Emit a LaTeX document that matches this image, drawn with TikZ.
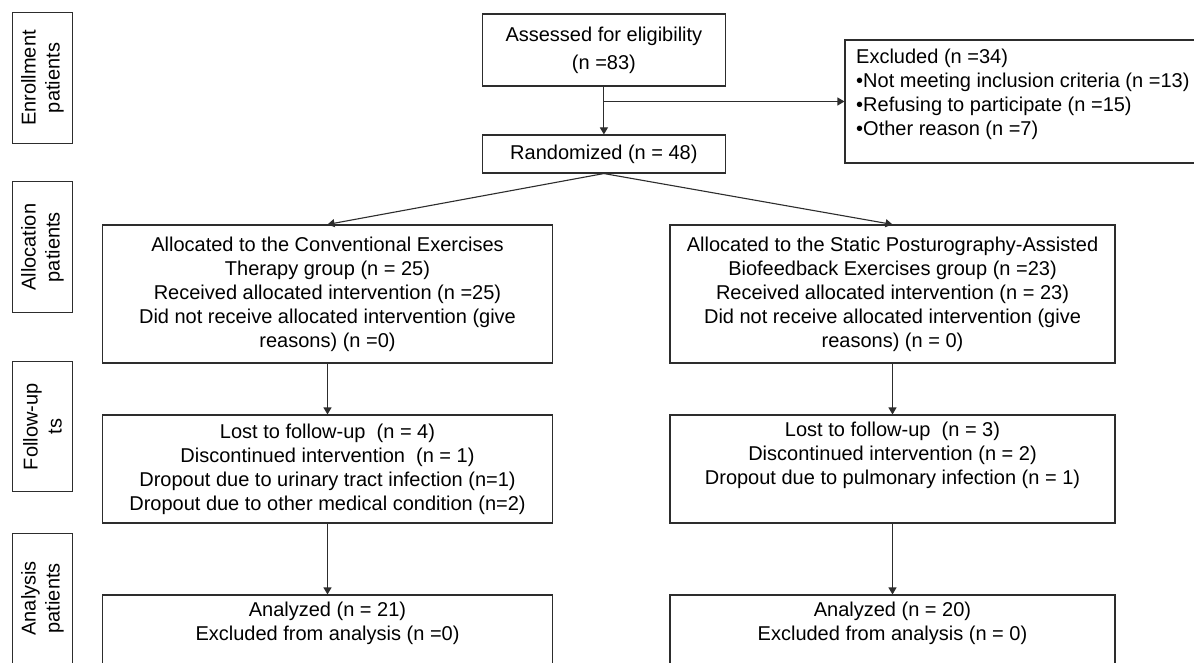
\documentclass[tikz,border=0pt]{standalone}
\usepackage{fontspec}
\setmainfont{Liberation Sans}
\usetikzlibrary{arrows.meta}
\definecolor{lncol}{RGB}{45,45,45}
\begin{document}
\begin{tikzpicture}[x=1pt,y=-1pt,
  txt/.style={font=\fontsize{20}{24}\selectfont, text=black},
  box/.style={txt, draw=lncol, line width=1.1pt, rectangle, inner sep=0pt, align=center},
  side/.style={box, rotate=90, minimum width=#1, minimum height=59.8pt},
  arr/.style={draw=lncol, line width=1.1pt, -{Triangle[length=7pt,width=8pt]}}
]
\useasboundingbox (0,0) rectangle (1194,663);
\clip (0,0) rectangle (1194,663);
\fill[white] (0,0) rectangle (1194,663);

% side labels
\node[side=130.6pt] (se) at (42.4,78) {Enrollment\\patients};
\node[side=131pt] (sa) at (42.4,247.2) {Allocation\\patients};
\node[side=130pt] (sf) at (42.4,426.7) {Follow-up\\ts};
\node[side=130pt] (sn) at (42.4,598.3) {Analysis\\patients};

% enrollment
\node[box, minimum width=242.3pt, minimum height=72pt] (as) at (603.9,50) {Assessed for eligibility\\[4pt](n =83)};
\node[box, minimum width=242.3pt, minimum height=38pt] (rd) at (603.9,154) {Randomized (n = 48)};
\node[box, minimum width=355pt, minimum height=123pt] (ex) at (1022.5,101.5) {};
\node[txt, anchor=north west, inner sep=0pt, align=left] (ext) at (856,47) {\strut Excluded (n =34)\\\textbullet Not meeting inclusion criteria (n =13)\\\textbullet Refusing to participate (n =15)\\\textbullet Other reason (n =7)};

% allocation
\node[box, minimum width=449.5pt, minimum height=138pt] (la) at (327.5,294) {Allocated to the Conventional Exercises\\Therapy group (n = 25)\\Received allocated intervention (n =25)\\Did not receive allocated intervention (give\\reasons) (n =0)};
\node[box, minimum width=445pt, minimum height=138pt] (ra) at (892.5,294) {Allocated to the Static Posturography-Assisted\\Biofeedback Exercises group (n =23)\\Received allocated intervention (n = 23)\\Did not receive allocated intervention (give\\reasons) (n = 0)};

% follow-up
\node[box, minimum width=449.5pt, minimum height=108pt] (lf) at (327.5,469) {Lost to follow-up\ \ (n = 4)\\Discontinued intervention\ \ (n = 1)\\Dropout due to urinary tract infection (n=1)\\Dropout due to other medical condition (n=2)};
\node[box, minimum width=445pt, minimum height=108pt] (rf) at (892.5,469) {Lost to follow-up\ \ (n = 3)\\Discontinued intervention (n = 2)\\Dropout due to pulmonary infection (n = 1)\\\strut};

% analysis
\node[box, minimum width=449.5pt, minimum height=108pt] (ln) at (327.5,649) {Analyzed (n = 21)\\Excluded from analysis (n =0)\\\strut\\\strut};
\node[box, minimum width=445pt, minimum height=108pt] (rn) at (892.5,649) {Analyzed (n = 20)\\Excluded from analysis (n = 0)\\\strut\\\strut};

% connectors
\draw[arr] (as) -- (rd);
\coordinate (br) at (as.south |- ex.west);
\draw[arr] (br) -- (ex.west);
\draw[arr] (rd.south) -- (la.north);
\draw[arr] (rd.south) -- (ra.north);
\draw[arr] (la) -- (lf);
\draw[arr] (ra) -- (rf);
\draw[arr] (lf) -- (ln);
\draw[arr] (rf) -- (rn);
\end{tikzpicture}
\end{document}
